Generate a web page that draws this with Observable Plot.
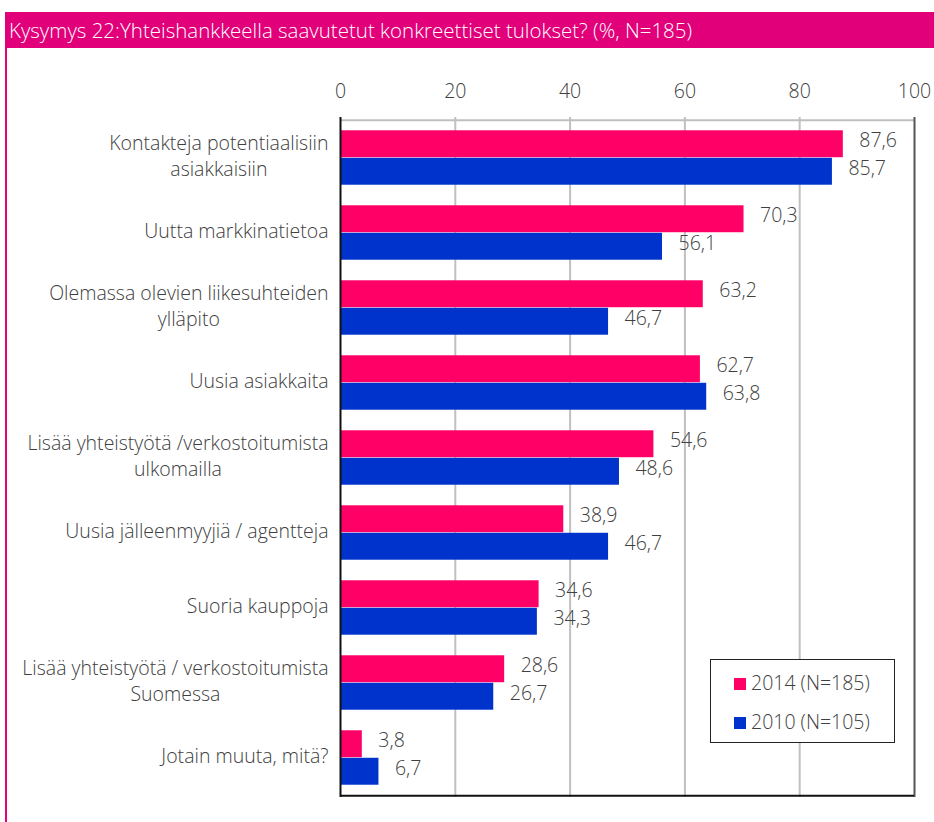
<!DOCTYPE html>
<html>
<head>
<meta charset="utf-8">
<script src="https://cdn.jsdelivr.net/npm/d3@7"></script>
<script src="https://cdn.jsdelivr.net/npm/@observablehq/plot@0.6"></script>
<style>
  html, body { margin: 0; padding: 0; background: #fff; width: 934px; height: 822px; overflow: hidden; }
  body { position: relative; font-family: "Open Sans", Arial, sans-serif; font-weight: 300; }
  #leftline { position: absolute; left: 5px; top: 12px; width: 2px; height: 810px; background: #E5007D; }
  #header { position: absolute; left: 5px; top: 12px; width: 929px; height: 36px; background: #E2007A; color: #fff;
    font-size: 20.5px; line-height: 36px; padding-left: 4px; box-sizing: border-box; white-space: nowrap; }
  #chart { position: absolute; left: 0; top: 48px; }
  #legend { position: absolute; left: 710px; top: 659px; width: 185px; height: 84px; border: 1.5px solid #222; box-sizing: border-box; background: #fff;
    font-size: 19.5px; color: #404040; }
  .item { position: absolute; left: 23px; height: 22px; line-height: 22px; white-space: nowrap; }
  .sw { display: inline-block; width: 12px; height: 12px; margin-right: 5px; vertical-align: 0px; }
</style>
</head>
<body>
<div id="leftline"></div>
<div id="header">Kysymys 22:Yhteishankkeella saavutetut konkreettiset tulokset? (%, N=185)</div>
<div id="chart"></div>
<div id="legend"></div>
<script>
const categories = [
  "Kontakteja potentiaalisiin\nasiakkaisiin",
  "Uutta markkinatietoa",
  "Olemassa olevien liikesuhteiden\nylläpito",
  "Uusia asiakkaita",
  "Lisää yhteistyötä /verkostoitumista\nulkomailla",
  "Uusia jälleenmyyjiä / agentteja",
  "Suoria kauppoja",
  "Lisää yhteistyötä / verkostoitumista\nSuomessa",
  "Jotain muuta, mitä?"
];
const values2014 = [87.6, 70.3, 63.2, 62.7, 54.6, 38.9, 34.6, 28.6, 3.8];
const values2010 = [85.7, 56.1, 46.7, 63.8, 48.6, 46.7, 34.3, 26.7, 6.7];
const seriesNames = ["2014 (N=185)", "2010 (N=105)"];
const seriesColors = ["#FF0066", "#0033CC"];
const xTicks = [0, 20, 40, 60, 80, 100];

const font = "Open Sans";
const fs = 19.5;
const W = 934, H = 774, mT = 69, mB = 25, mL = 340, mR = 20;
const step = (H - mT - mB) / categories.length;
const gap = step * 0.136;
const half = step / 2;
const shift = -3;

const d2014 = categories.map((c, i) => ({cat: c, v: values2014[i]}));
const d2010 = categories.map((c, i) => ({cat: c, v: values2010[i]}));
const fmt = v => v.toFixed(1).replace(".", ",");

const ctx = document.createElement("canvas").getContext("2d");
ctx.font = `300 ${fs}px "${font}"`;
const labelMarks = categories.map(c => {
  const w = Math.max(...c.split("\n").map(s => ctx.measureText(s).width));
  return Plot.text([c], {x: () => 0, y: d => d, text: d => d, textAnchor: "middle", dx: -12 - w / 2, dy: shift,
    lineHeight: 1.33, fill: "#404040"});
});

const chart = Plot.plot({
  width: W, height: H, marginTop: mT, marginBottom: mB, marginLeft: mL, marginRight: mR,
  style: {fontSize: fs + "px", fontFamily: font, fontWeight: 300, color: "#404040", background: "transparent", overflow: "visible"},
  x: {domain: [0, 100], axis: "top", ticks: xTicks, tickSize: 0, tickPadding: 20, label: null},
  y: {domain: categories, padding: 0, axis: null},
  marks: [
    Plot.ruleX([20, 40, 60, 80], {stroke: "#C0C0C0", strokeWidth: 2}),
    Plot.barX(d2014, {x: "v", y: "cat", fill: seriesColors[0], insetTop: gap, insetBottom: half}),
    Plot.barX(d2010, {x: "v", y: "cat", fill: seriesColors[1], insetTop: half, insetBottom: gap}),
    Plot.text(d2014, {x: "v", y: "cat", text: d => fmt(d.v), dx: 16, dy: -(half - gap) / 2 + shift, textAnchor: "start", fill: "#404040"}),
    Plot.text(d2010, {x: "v", y: "cat", text: d => fmt(d.v), dx: 16, dy: (half - gap) / 2 + shift, textAnchor: "start", fill: "#404040"}),
    Plot.ruleY([categories[0]], {dy: -half, stroke: "#BFBFBF", strokeWidth: 2}),
    Plot.ruleX([100], {stroke: "#555", strokeWidth: 2}),
    Plot.ruleX([0], {stroke: "#111", strokeWidth: 2}),
    Plot.ruleY([categories[categories.length - 1]], {dy: half, stroke: "#111", strokeWidth: 2}),
    ...labelMarks
  ]
});
document.getElementById("chart").appendChild(chart);

const legend = document.getElementById("legend");
seriesNames.forEach((n, i) => {
  const el = document.createElement("div");
  el.className = "item";
  el.style.top = (i === 0 ? 12 : 51) + "px";
  el.innerHTML = `<span class="sw" style="background:${seriesColors[i]}"></span>${n}`;
  legend.appendChild(el);
});
</script>
</body>
</html>
